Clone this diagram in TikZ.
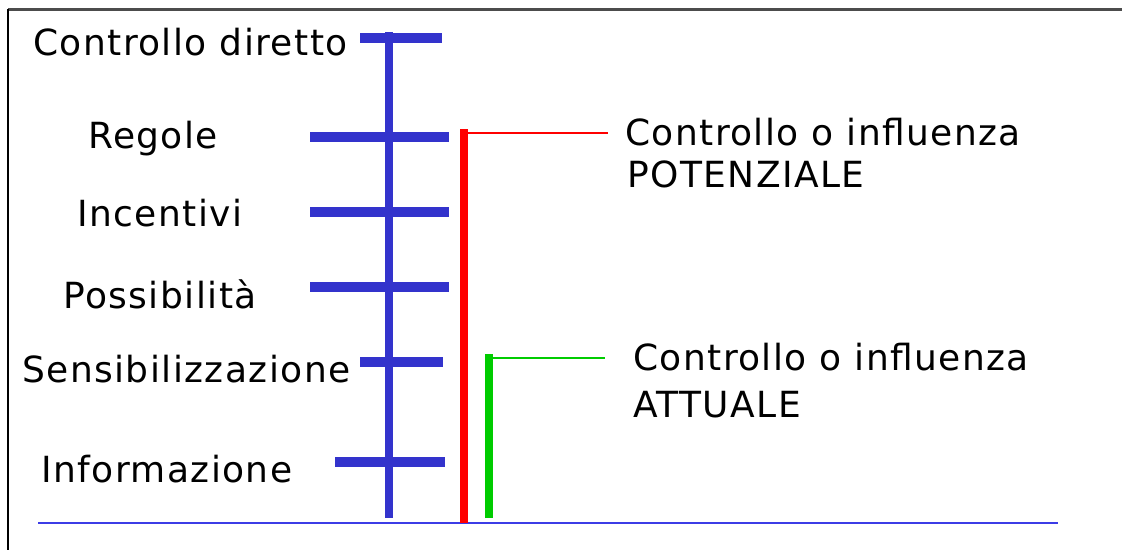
\documentclass[tikz,border=0pt]{standalone}
\usepackage{fontspec}
\setmainfont{DejaVu Sans}[LetterSpace=4]
\definecolor{scaleblue}{RGB}{51,51,204}
\definecolor{baseblue}{RGB}{60,60,230}
\definecolor{potred}{RGB}{255,0,0}
\definecolor{actgreen}{RGB}{0,204,0}
\tikzset{
  lbl/.style={anchor=base west, inner sep=0pt, font=\fontsize{36}{42}\selectfont},
  rung/.style={draw=scaleblue, line width=10.5pt},
  spine/.style={draw=scaleblue, line width=8.5pt},
  level/.style={line width=8pt},
  leader/.style={line width=2pt},
}
\begin{document}
\begin{tikzpicture}[x=1pt,y=-1pt]
\useasboundingbox (0,0) rectangle (1122,550);
% frame
\draw[black!70, line width=3pt] (8,9) -- (1122,9);
\draw[black, line width=2pt] (8,9) -- (8,550);
% ground line
\coordinate (g0) at (38,523);
\coordinate (g1) at (1058,523);
\draw[baseblue, line width=2pt] (g0) -- (g1);
% the scale: spine and rungs
\coordinate (s0) at (389,32);
\coordinate (s1) at (389,518);
\draw[spine] (s0) -- (s1);
\draw[rung] (360,38) -- (442,38);
\draw[rung] (310,137) -- (449,137);
\draw[rung] (310,212) -- (449,212);
\draw[rung] (310,287) -- (449,287);
\draw[rung] (360,362) -- (443,362);
\draw[rung] (335,462) -- (445,462);
% scale labels
\node[lbl] (cd) at (33,55) {Controllo diretto};
\node[lbl] (rg) at (88,148) {Regole};
\node[lbl] (ic) at (77,226) {Incentivi};
\node[lbl] (ps) at (63,308) {Possibilità};
\node[lbl] (sz) at (22,382) {Sensibilizzazione};
\node[lbl] (inf) at (41,482) {Informazione};
% potential influence range
\coordinate (r1) at (464,523);
\coordinate (r2) at (608,133);
\draw[potred, level] (r1) -- (464,129);
\draw[potred, leader] (463,133) -- (r2);
\node[lbl] (pot1) at (625,145) {Controllo o influenza};
\node[lbl] (pot2) at (627,187) {POTENZIALE};
% actual influence range
\coordinate (v1) at (489,518);
\coordinate (v2) at (605,358);
\draw[actgreen, level] (v1) -- (489,354);
\draw[actgreen, leader] (488,358) -- (v2);
\node[lbl] (act1) at (633,370) {Controllo o influenza};
\node[lbl] (act2) at (633,417) {ATTUALE};
\end{tikzpicture}
\end{document}
